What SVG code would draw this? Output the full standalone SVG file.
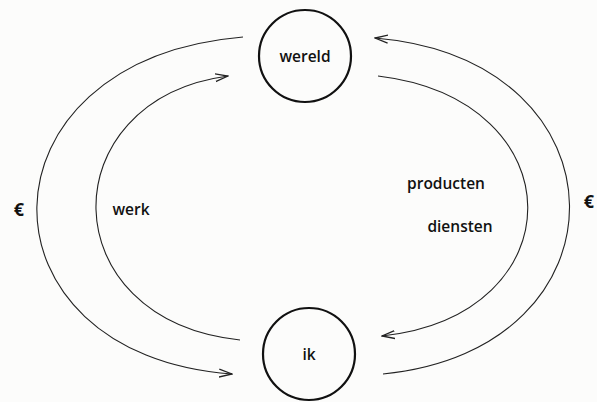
<svg xmlns="http://www.w3.org/2000/svg" width="597" height="402" viewBox="0 0 597 402">
<defs>
<style>
.node{fill:none;stroke:#111;stroke-width:2.2}
.lbl{font-family:"Open Sans","Liberation Sans",sans-serif;font-size:15.5px;font-weight:600;fill:#111;text-anchor:middle}
.eur{font-size:18px;font-weight:bold}
.conn{fill:none;stroke:#222;stroke-width:1.1;marker-end:url(#arr)}
</style>
<marker id="arr" viewBox="0 0 14 10" refX="13" refY="5" markerWidth="14" markerHeight="10" markerUnits="userSpaceOnUse" orient="auto">
<path d="M0,1 L13,5 L0,9" fill="none" stroke="#222" stroke-width="1.3"/>
</marker>
</defs>
<rect width="597" height="402" fill="#fcfcfb"/>
<g id="connectors">
<path class="conn" d="M243 37 C-30 60,-30 355,232 374"/>
<path class="conn" d="M240 340 C50 320,50 100,228 76"/>
<path class="conn" d="M378 76 C577 100,577 315,382 336"/>
<path class="conn" d="M383 374 C633 350,633 60,375 38"/>
</g>
<g id="wereld"><circle class="node" cx="305" cy="56" r="46"/><text class="lbl" x="305" y="62">wereld</text></g>
<g id="ik"><circle class="node" cx="309" cy="354" r="46"/><text class="lbl" x="309" y="360">ik</text></g>
<g id="labels">
<text class="lbl eur" x="19" y="216">€</text>
<text class="lbl eur" x="589" y="208">€</text>
<text class="lbl" x="131" y="215">werk</text>
<text class="lbl" x="446" y="189">producten</text>
<text class="lbl" x="460" y="232">diensten</text>
</g>
</svg>
